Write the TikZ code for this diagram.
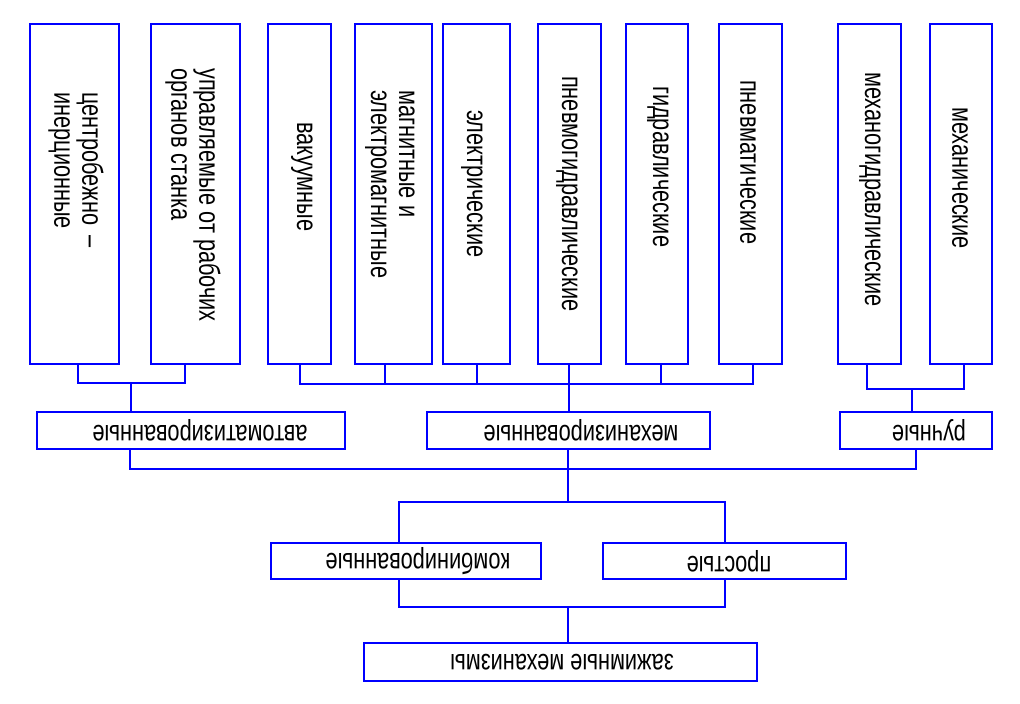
\documentclass[tikz,border=0pt]{standalone}
\usepackage{fontspec}
\setmainfont[FakeStretch=0.75]{Liberation Sans}
\begin{document}
\begin{tikzpicture}[x=1pt,y=-1pt,
  box/.style={draw=blue, line width=2pt, inner sep=0pt, outer sep=0pt},
  wire/.style={draw=blue, line width=2pt},
  vtext/.style={rotate=-90, anchor=west, align=left, inner sep=0pt, font=\fontsize{29}{28}\selectfont},
  htext/.style={rotate=180, inner sep=0pt, font=\fontsize{29}{28}\selectfont}]
\useasboundingbox (0,0) rectangle (1020,704);
% top row boxes
\node[box, minimum width=89pt, minimum height=340pt] (b1) at (74.5,194) {};
\node[box, minimum width=89pt, minimum height=340pt] (b2) at (195.5,194) {};
\node[box, minimum width=63pt, minimum height=340pt] (b3) at (299.5,194) {};
\node[box, minimum width=77pt, minimum height=340pt] (b4) at (393.5,194) {};
\node[box, minimum width=67pt, minimum height=340pt] (b5) at (476.5,194) {};
\node[box, minimum width=63pt, minimum height=340pt] (b6) at (569.5,194) {};
\node[box, minimum width=62pt, minimum height=340pt] (b7) at (657,194) {};
\node[box, minimum width=63pt, minimum height=340pt] (b8) at (750.5,194) {};
\node[box, minimum width=63pt, minimum height=340pt] (b9) at (869.5,194) {};
\node[box, minimum width=62pt, minimum height=340pt] (b10) at (961,194) {};
% vertical texts
\node[vtext] (t1) at (76,92) {центробежно\hspace{10pt}–\\инерционные};
\node[vtext] (t2) at (193,68) {управляемые от рабочих\\органов станка};
\node[vtext] (t3) at (302,122) {вакуумные};
\node[vtext] (t4) at (390,90) {магнитные и\\электромагнитные};
\node[vtext] (t5) at (472,110) {электрические};
\node[vtext] (t6) at (567,76) {пневмогидравлические};
\node[vtext] (t7) at (658,86) {гидравлические};
\node[vtext] (t8) at (748,80) {пневматические};
\node[vtext] (t9) at (870,72) {механогидравлические};
\node[vtext] (t10) at (960,107) {механические};
% middle row
\node[box, minimum width=308pt, minimum height=37pt] (m1) at (191,430.5) {};
\node[box, minimum width=283pt, minimum height=37pt] (m2) at (568.5,430.5) {};
\node[box, minimum width=152pt, minimum height=37pt] (m3) at (916,430.5) {};
\node[htext] (tm1) at (200,430.5) {автоматизированные};
\node[htext] (tm2) at (581,430.5) {механизированные};
\node[htext] (tm3) at (929,430.5) {ручные};
% lower row
\node[box, minimum width=270pt, minimum height=36pt] (c1) at (406,561) {};
\node[box, minimum width=243pt, minimum height=36pt] (c2) at (724.5,561) {};
\node[htext] (tc1) at (418,561) {комбинированные};
\node[htext] (tc2) at (729,561) {простые};
% bottom
\node[box, minimum width=393pt, minimum height=38pt] (z) at (560.5,662) {};
\node[htext] (tz) at (562,662) {зажимные механизмы};
% connectors group A
\draw[wire] ([xshift=3.5pt]b1.south) -- ++(0,19) -| ([xshift=-10.5pt]b2.south);
\coordinate (jA) at (131,383);
\draw[wire] (jA) -- (jA |- m1.north);
% group B
\draw[wire] ([xshift=0.5pt]b3.south) -- ++(0,20) -| ([xshift=2.5pt]b8.south);
\draw[wire] ([xshift=-8.5pt]b4.south) -- ++(0,20);
\draw[wire] ([xshift=0.5pt]b5.south) -- ++(0,20);
\draw[wire] ([xshift=4pt]b7.south) -- ++(0,20);
\draw[wire] ([xshift=-1pt]b6.south) -- ([xshift=-1pt]b6.south |- m2.north);
% group C
\draw[wire] ([xshift=-2.5pt]b9.south) -- ++(0,25) -| ([xshift=3pt]b10.south);
\coordinate (jC) at (912,389);
\draw[wire] (jC) -- (jC |- m3.north);
% bus D
\draw[wire] ([xshift=-61pt]m1.south) -- ++(0,20) -| (m3.south);
\coordinate (jE) at (568,502);
\draw[wire] ([xshift=-0.5pt]m2.south) -- (jE);
% bus E
\draw[wire] ([xshift=-7pt]c1.north) -- ++(0,-41) -| ([xshift=0.5pt]c2.north);
% bus F
\draw[wire] ([xshift=-7pt]c1.south) -- ++(0,28) -| ([xshift=0.5pt]c2.south);
\coordinate (jF) at (568,607);
\draw[wire] (jF) -- (jF |- z.north);
\end{tikzpicture}
\end{document}
